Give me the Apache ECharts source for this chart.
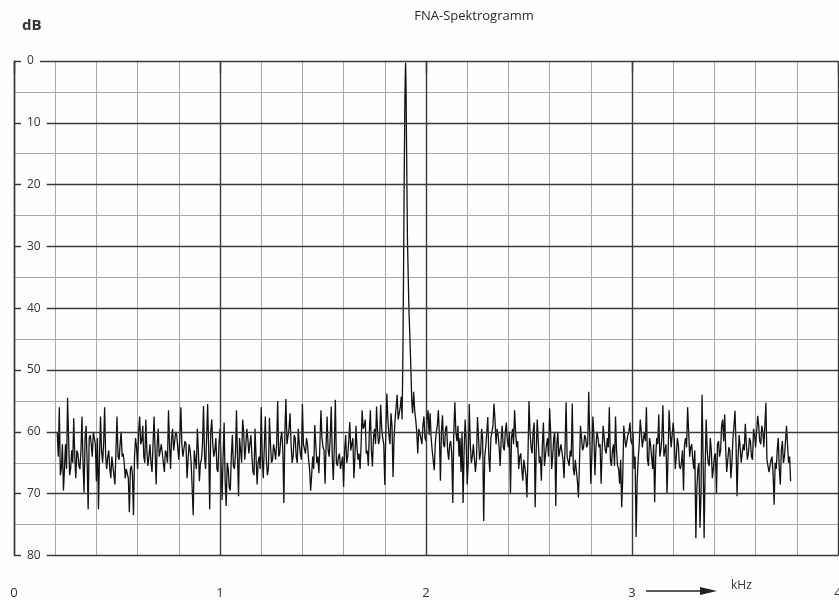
<!DOCTYPE html>
<html>
<head>
<meta charset="utf-8">
<title>FNA-Spektrogramm</title>
<script src="https://cdn.jsdelivr.net/npm/echarts@6/dist/echarts.min.js"></script>
<style>
  html, body { margin: 0; padding: 0; background: #fefefc; }
  #chart { width: 839px; height: 600px; }
</style>
</head>
<body>
<div id="chart"></div>
<script>
// Abtastraster der Rauschspur (kHz)
const stepKHz = 0.01
const startA = 0.21
const startB = 1.94

// Spitzenwerte in dB, 0.21 .. 1.88 kHz
const noiseA = [
  60, 56, 66, 69.5, 62, 54.5, 67, 63, 57.8, 67.5,
  63.5, 66, 57.5, 69.8, 59, 72.5, 60.5, 64, 60, 68,
  72.5, 57.5, 65, 56, 66, 63, 67.5, 64, 68.5, 57.5,
  64.5, 60, 63.5, 67.5, 66, 73, 65.5, 73.5, 61, 66,
  57.5, 61.5, 64, 58, 65.5, 62, 66.5, 57.5, 68.5, 59.5,
  64, 62, 66.5, 63.5, 56.5, 66, 59.5, 63, 60.5, 64.5,
  56, 64, 61.5, 67.5, 62, 65, 73.5, 63, 59.5, 68,
  64.5, 55.8, 66, 55.5, 72.5, 58, 64, 61, 66.5, 59.5,
  71, 58.5, 72, 66, 69.5, 60.5, 66, 56.5, 70.4, 63,
  58, 64.5, 59.5, 63.5, 60.5, 66.5, 59.5, 68.5, 64, 56,
  67.5, 57.5, 67, 57.7, 65, 62, 64.5, 55, 63.5, 60,
  71.5, 54.7, 62, 57, 65, 60.5, 64, 59.5, 63.5, 55.5,
  62, 61, 64.5, 69.5, 64, 58.9, 65, 66.7, 56.5, 62.5,
  68.4, 57.5, 64, 55.9, 67.8, 54.8, 65.5, 63.5, 66.2, 68.9,
  60.5, 64, 58.4, 63, 67.5, 59, 64.5, 66, 56.5, 59,
  63.5, 65.5, 56.5, 65.6, 59.5, 55.9, 62, 55.6, 61, 68.6,
  53.8, 60.5, 57, 67.3, 58, 54, 58, 54.3
]

// dichter Kern der Spur, jeweils 0.005 kHz nach dem Spitzenwert, 0.215 .. 1.875 kHz
const coreA = [
  64, 67, 62, 66, 66, 61, 66, 65, 64, 63,
  65.5, 63, 65, 61, 65, 61, 62, 60, 62, 61,
  64, 63, 62, 64, 64, 66, 64, 67, 63, 64,
  62, 64, 65, 66, 67.5, 66, 67, 64, 62.5, 60,
  62, 59, 65, 63, 64, 65, 62, 63, 62, 64,
  62, 65, 63, 65, 62, 61, 63, 60, 62.5, 61,
  62, 64, 62, 64.5, 63, 65, 63, 66, 63, 65,
  62, 64, 61, 62.5, 60, 62, 63, 66, 62, 65,
  64, 68, 65, 69, 64, 65.5, 63.6, 64, 61, 65,
  60, 62.5, 61, 63.5, 64, 67, 64, 65, 66, 64,
  67.7, 64.5, 66, 62, 64.5, 63, 62, 64, 61, 63,
  60, 62, 59.5, 62, 64, 61, 65, 62, 64.5, 62,
  63.5, 62, 66, 67, 66, 62, 64, 62, 61, 63,
  62, 63, 61, 64, 62.5, 65, 64, 66, 64, 63,
  65, 61.5, 63, 61, 64, 62.5, 63.5, 62, 59.5, 58,
  63, 60, 63, 61, 62, 60, 61, 59.5, 62, 60,
  58, 62, 59, 61, 56, 58, 56
]

// Träger bei 1.9 kHz
const peakKHz = [1.884, 1.888, 1.891, 1.894, 1.897, 1.899, 1.901, 1.903, 1.906, 1.91, 1.917, 1.925, 1.931, 1.935]
const peakDb  = [58,    47,    34,    20,    8,     3,     0.3,   4,     15,    29,   40,    48,    55,    57]

// Spitzenwerte in dB, 1.94 .. 3.77 kHz
const noiseB = [
  53.5, 58, 63.5, 59.5, 62, 57.5, 61.5, 56.5,
  57, 63, 66.2, 60, 56.5, 67.9, 57.3, 62.5, 59, 64.5,
  61.5, 71.5, 55.2, 61.5, 64, 66.5, 71.5, 58, 68.5, 55.5,
  65, 62, 66.5, 57.6, 64.5, 59.5, 74.4, 62.5, 57.6, 66.5,
  60, 55.4, 62, 60.5, 65.5, 59, 63, 58.5, 62.5, 70,
  59.5, 56.5, 62.5, 66, 63.5, 67.9, 64.5, 70.6, 55, 62.5,
  60, 72.2, 58, 65, 67.9, 58.5, 65.5, 61, 56.2, 66, 61,
  72, 60, 64, 62, 67.5, 55.2, 64, 63, 55.4, 67,
  64.5, 70.6, 59, 63, 60.5, 62.5, 53.5, 68.4, 57.5, 67,
  60, 62.5, 68.4, 59, 63, 61, 56, 65.5, 62, 57.5,
  65.5, 68.4, 72.2, 59, 62.5, 60.5, 58.5, 62, 66, 77,
  64.5, 58, 62.5, 60, 56, 65.5, 62, 66, 71.4, 61,
  57.2, 63, 55.7, 64, 70, 56.5, 62.5, 58.5, 66, 61, 65.5,
  65, 69.5, 61, 56, 64, 62, 66, 77.2, 66, 75.5,
  54, 77.2, 58, 65, 61, 67.5, 64, 70, 61.5, 63,
  58, 57.2, 66.5, 62.5, 67.5, 61, 56.6, 70.4, 60.5, 65,
  62, 58.7, 64.5, 61, 64, 59.5, 62.5, 57.4, 61.5, 59,
  62.5, 55.3, 64.5, 66.5, 64, 71.8, 66, 61, 68.5, 61.5,
  64, 59, 65, 68
]

// dichter Kern, 1.945 .. 3.765 kHz
const coreB = [
  56.5, 60, 59.5, 61, 59, 61, 58, 60.5,
  61, 63, 62, 59, 60.5, 60, 62, 59.5, 63, 62,
  63.5, 60, 60, 59, 61, 60, 63, 61.5, 65, 62,
  64, 62, 64.5, 61, 63.5, 61, 64, 62.5, 64, 61,
  59, 58, 59.5, 62.5, 61, 62.5, 60, 61.5, 60, 61,
  62, 60, 61.5, 64, 66, 64.5, 67, 64, 60, 63.5,
  58.5, 63, 61.5, 64, 62, 65.5, 62, 64, 60, 64, 60,
  62, 64, 62, 64.5, 62.5, 64, 65.5, 64, 66, 64.5,
  68, 65, 61, 62.5, 61, 62, 61, 64, 60.5, 62.5,
  61, 62, 63, 61, 63.5, 62.5, 64.5, 63, 65.5, 63,
  66, 64.5, 67.5, 61, 62.5, 60, 61.5, 60, 64, 68,
  62, 60, 62.5, 61.5, 64.5, 61, 64, 62, 64, 62,
  64, 61, 64, 62, 64, 60, 62.5, 61, 64, 62, 66,
  63, 62, 62.5, 60, 62.5, 64.5, 63, 69, 65, 70,
  64, 66, 63, 65.5, 63, 66, 63.5, 62, 64, 59,
  61.5, 63, 66.5, 63, 65, 59, 62, 64, 62.5, 65,
  63, 62, 63.5, 61.5, 64.5, 60.5, 62.5, 59, 62, 60,
  62.5, 64.5, 66.5, 64.5, 67, 65, 63, 66, 63, 65,
  64, 62, 64
]

function toPoints(start, peaks, core) {
  const pts = []
  peaks.forEach((v, i) => {
    const f = start + i * stepKHz
    pts.push([+f.toFixed(3), v])
    if (i < core.length) pts.push([+(f + stepKHz / 2).toFixed(4), core[i]])
  })
  return pts
}

const trace = toPoints(startA, noiseA, coreA)
  .concat(peakKHz.map((f, i) => [f, peakDb[i]]))
  .concat(toPoints(startB, noiseB, coreB))

const font = '"Open Sans", "DejaVu Sans", sans-serif'
const dark = '#3a3a38'
const light = '#a8a8a4'

const chart = echarts.init(document.getElementById('chart'))

const option = {
  animation: false,
  backgroundColor: '#fefefc',
  title: {
    text: 'FNA-Spektrogramm',
    left: 469,
    top: 5,
    textAlign: 'center',
    textStyle: { fontFamily: font, fontSize: 13, fontWeight: 'normal', color: '#2a2a2a' },
  },
  grid: {
    left: 14,
    right: 1,
    top: 61,
    bottom: 44.5,
    containLabel: false,
    outerBoundsMode: 'none',
  },
  xAxis: [
    {
      // Hauptlinien je kHz
      type: 'value',
      min: 0,
      max: 4,
      interval: 1,
      position: 'bottom',
      z: 3,
      axisLine: { show: false },
      axisTick: { show: true, inside: false, length: 12, lineStyle: { color: dark, width: 1.4 } },
      splitLine: { show: true, lineStyle: { color: dark, width: 1.4 } },
      axisLabel: { margin: 31, fontFamily: font, fontSize: 13, color: '#333' },
    },
    {
      // Zwischenlinien je 0.2 kHz
      type: 'value',
      min: 0,
      max: 4,
      interval: 0.2,
      position: 'bottom',
      z: 1,
      axisLine: { show: false },
      axisTick: { show: true, inside: false, length: 12, lineStyle: { color: light, width: 1 } },
      splitLine: { show: true, lineStyle: { color: light, width: 1 } },
      axisLabel: { show: false },
    },
  ],
  yAxis: [
    {
      type: 'value',
      inverse: true,
      min: 0,
      max: 80,
      interval: 10,
      z: 3,
      axisLine: { show: true, lineStyle: { color: dark, width: 1.4 } },
      axisTick: { show: false },
      splitLine: { show: true, lineStyle: { color: dark, width: 1.3 } },
      axisLabel: {
        inside: true,
        margin: 7,
        fontFamily: font,
        fontSize: 12,
        color: '#333',
        backgroundColor: '#fefefc',
        padding: [1, 6, 1, 6],
      },
    },
    {
      type: 'value',
      inverse: true,
      min: 0,
      max: 80,
      interval: 5,
      position: 'left',
      z: 1,
      axisLine: { show: false },
      axisTick: { show: false },
      axisLabel: { show: false },
      splitLine: { show: true, lineStyle: { color: light, width: 1 } },
    },
  ],
  graphic: [
    {
      type: 'text',
      left: 22,
      top: 18,
      style: { text: 'dB', font: 'bold 15px "Open Sans", sans-serif', fill: '#333' },
    },
    {
      type: 'line',
      shape: { x1: 646, y1: 591, x2: 704, y2: 591 },
      style: { stroke: '#222', lineWidth: 1.5 },
    },
    {
      type: 'polygon',
      shape: { points: [[700, 587], [717, 591], [700, 595]] },
      style: { fill: '#222' },
    },
    {
      type: 'text',
      left: 731,
      top: 580,
      style: { text: 'kHz', font: '12px "Open Sans", sans-serif', fill: '#333' },
    },
  ],
  series: [
    {
      name: 'Spektrum',
      type: 'line',
      xAxisIndex: 0,
      yAxisIndex: 0,
      showSymbol: false,
      z: 2,
      lineStyle: { color: '#111', width: 1.3 },
      data: trace,
    },
  ],
}

chart.setOption(option)
</script>
</body>
</html>
